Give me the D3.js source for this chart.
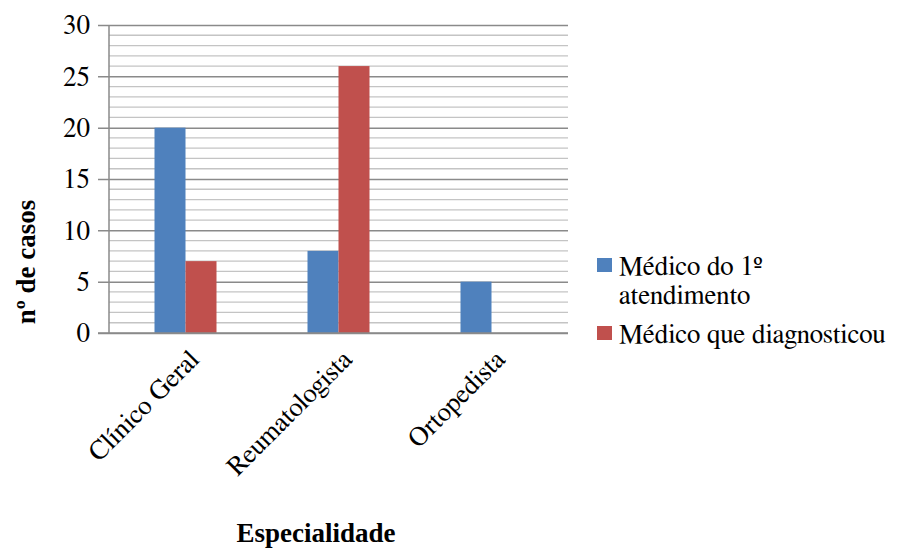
<!DOCTYPE html>
<html>
<head>
<meta charset="utf-8">
<script src="https://cdn.jsdelivr.net/npm/d3@7"></script>
<style>
html,body{margin:0;padding:0;background:#fff;}
svg{display:block;}
</style>
</head>
<body>
<svg id="chart" width="902" height="550"></svg>
<script>
const categories = ["Clínico Geral", "Reumatologista", "Ortopedista"];
const seriesNames = ["Médico do 1º atendimento", "Médico que diagnosticou"];
const legendLines = [["Médico do 1º", "atendimento"], ["Médico que diagnosticou"]];
const primeiroAtendimento = [20, 8, 5];
const diagnosticou = [7, 26, 0];
const yTicks = [0, 5, 10, 15, 20, 25, 30];
const colors = ["#4F81BD", "#C0504D"];

const FONT = '"FreeSerif", "Liberation Serif", "Times New Roman", Times, serif';
const FONTB = '"Liberation Serif", "Times New Roman", Times, serif';
const FS = 27;
const FSB = 27;
const svg = d3.select("#chart");
const mLeft = 109, mRight = 568, mTop = 25, mBottom = 333;

const x = d3.scaleBand().domain(categories).range([mLeft, mRight]).padding(0);
const y = d3.scaleLinear().domain([0, 30]).range([mBottom, mTop]);
const barW = 31;

// minor gridlines
const minor = d3.range(0, 31, 1).filter(v => v % 5 !== 0);
svg.append("g").selectAll("line").data(minor).join("line")
  .attr("x1", mLeft).attr("x2", mRight)
  .attr("y1", d => y(d)).attr("y2", d => y(d))
  .attr("stroke", "#c4c4c4").attr("stroke-width", 1.3);

// major gridlines via axis
const yAxis = d3.axisLeft(y).tickValues(yTicks).tickSize(-(mRight - mLeft)).tickPadding(0).tickFormat("");
const gy = svg.append("g").attr("transform", `translate(${mLeft},0)`).call(yAxis);
gy.select(".domain").remove();
gy.selectAll(".tick line").attr("stroke", "#8a8a8a").attr("stroke-width", 1.5).attr("x1", -11);

// tick labels
svg.append("g").selectAll("text").data(yTicks).join("text")
  .attr("x", 90).attr("y", d => y(d)).attr("dy", "0.35em")
  .attr("text-anchor", "end").style("font-family", FONT).style("font-size", FS + "px").attr("fill", "#000")
  .text(d => d);

// left axis line
svg.append("line").attr("x1", mLeft).attr("x2", mLeft).attr("y1", mTop).attr("y2", mBottom)
  .attr("stroke", "#8a8a8a").attr("stroke-width", 1.5);

// bars
const data = categories.map((c, i) => ({c, vals: [primeiroAtendimento[i], diagnosticou[i]]}));
data.forEach(d => {
  const cx = x(d.c) + x.bandwidth() / 2;
  d.vals.forEach((v, j) => {
    if (v <= 0) return;
    svg.append("rect")
      .attr("x", cx - barW + j * barW).attr("width", barW)
      .attr("y", y(v)).attr("height", y(0) - y(v))
      .attr("fill", colors[j]);
  });
});

// x axis line
svg.append("line").attr("x1", 98).attr("x2", mRight).attr("y1", mBottom).attr("y2", mBottom)
  .attr("stroke", "#8a8a8a").attr("stroke-width", 1.5);

// category labels
svg.append("g").selectAll("text").data(categories).join("text")
  .attr("transform", d => `translate(${x(d) + x.bandwidth() / 2 + 15},${mBottom + 28}) rotate(-45)`)
  .attr("text-anchor", "end").style("font-family", FONT).style("font-size", FS + "px").attr("fill", "#000")
  .text(d => d);

// axis titles
svg.append("text").attr("transform", "translate(35,262) rotate(-90)")
  .attr("text-anchor", "middle").style("font-family", FONTB).style("font-size", FSB + "px").style("font-weight", "bold")
  .text("nº de casos");
svg.append("text").attr("x", 316).attr("y", 542)
  .attr("text-anchor", "middle").style("font-family", FONTB).style("font-size", FSB + "px").style("font-weight", "bold")
  .text("Especialidade");

// legend
const legendY = [275, 343];
legendLines.forEach((lines, i) => {
  svg.append("rect").attr("x", 597).attr("y", legendY[i] - 17).attr("width", 15).attr("height", 14).attr("fill", colors[i]);
  const t = svg.append("text").attr("x", 619).attr("y", legendY[i])
    .style("font-family", FONT).style("font-size", FS + "px").attr("fill", "#000");
  lines.forEach((l, k) => t.append("tspan").attr("x", 619).attr("dy", k === 0 ? 0 : 29).text(l));
});
</script>
</body>
</html>
